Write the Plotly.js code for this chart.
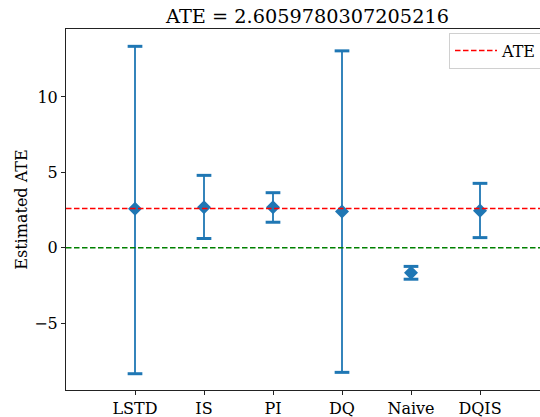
<!DOCTYPE html>
<html>
<head>
<meta charset="utf-8">
<script src="https://cdn.plot.ly/plotly-3.0.1.min.js"></script>
<style>
html, body { margin: 0; padding: 0; overflow: hidden; background: #fff; }
#chart { width: 550px; height: 417px; }
</style>
</head>
<body>
<div id="chart"></div>
<script>
// Data
const methods = ["LSTD", "IS", "PI", "DQ", "Naive", "DQIS"];
const estimates = [2.58, 2.68, 2.68, 2.40, -1.66, 2.46];
const upperCI = [13.36, 4.80, 3.65, 13.06, -1.24, 4.27];
const lowerCI = [-8.36, 0.61, 1.69, -8.27, -2.09, 0.67];
const trueATE = 2.6059780307205216;
const zeroLine = 0;
const xRange = [-1, 6];
const yRange = [-9.44, 14.51];
const yTicks = [-5, 0, 5, 10];

const blue = "#1f77b4";
const serif = "DejaVu Serif, Liberation Serif, serif";
const xIdx = methods.map((_, i) => i);
const errPlus = estimates.map((v, i) => upperCI[i] - v);
const errMinus = estimates.map((v, i) => v - lowerCI[i]);

const traces = [
  {
    type: "scatter",
    mode: "markers",
    x: xIdx,
    y: estimates,
    showlegend: false,
    marker: { symbol: "diamond", size: 10.8, color: blue, line: { width: 0 } },
    error_y: {
      type: "data",
      symmetric: false,
      array: errPlus,
      arrayminus: errMinus,
      color: blue,
      thickness: 1.8,
      width: 0
    }
  },
  {
    type: "scatter",
    mode: "markers",
    x: xIdx.concat(xIdx),
    y: upperCI.concat(lowerCI),
    showlegend: false,
    hoverinfo: "skip",
    marker: { symbol: "line-ew", size: 10.5, color: blue, line: { color: blue, width: 3 } }
  },
  {
    type: "scatter",
    mode: "lines",
    x: xRange,
    y: [trueATE, trueATE],
    name: "ATE",
    line: { color: "red", width: 1.5, dash: "5.5px,2.5px" }
  },
  {
    type: "scatter",
    mode: "lines",
    x: xRange,
    y: [zeroLine, zeroLine],
    showlegend: false,
    line: { color: "green", width: 1.5, dash: "5.5px,2.5px" }
  }
];

const layout = {
  width: 550,
  height: 417,
  margin: { l: 66, r: 1, t: 29, b: 27 },
  paper_bgcolor: "#fff",
  plot_bgcolor: "#fff",
  font: { family: serif, size: 16, color: "#000" },
  title: {
    text: "ATE = " + String(trueATE),
    font: { family: serif, size: 19.3, color: "#000" },
    x: 0.5, xref: "paper", xanchor: "center",
    y: 0.962, yref: "container", yanchor: "middle"
  },
  xaxis: {
    range: xRange,
    tickmode: "array",
    tickvals: xIdx,
    ticktext: methods,
    showgrid: false,
    zeroline: false,
    showline: true,
    linecolor: "#222",
    linewidth: 1,
    mirror: true,
    ticks: "outside",
    ticklen: 4,
    tickcolor: "#222",
    tickfont: { family: serif, size: 16, color: "#000" }
  },
  yaxis: {
    range: yRange,
    tickmode: "array",
    tickvals: yTicks,
    showgrid: false,
    zeroline: false,
    showline: true,
    linecolor: "#222",
    linewidth: 1,
    mirror: true,
    ticks: "outside",
    ticklen: 4,
    tickcolor: "#222",
    tickfont: { family: serif, size: 16, color: "#000" },
    title: { text: "Estimated ATE", font: { family: serif, size: 16, color: "#000" }, standoff: 2 }
  },
  showlegend: true,
  legend: {
    x: 0.793, xanchor: "left",
    y: 0.99, yanchor: "top",
    itemwidth: 42,
    bgcolor: "rgba(255,255,255,0.8)",
    bordercolor: "#d0d0d0",
    borderwidth: 1,
    font: { family: serif, size: 16, color: "#000" }
  }
};

Plotly.newPlot("chart", traces, layout, { displayModeBar: false, staticPlot: true });
</script>
</body>
</html>
